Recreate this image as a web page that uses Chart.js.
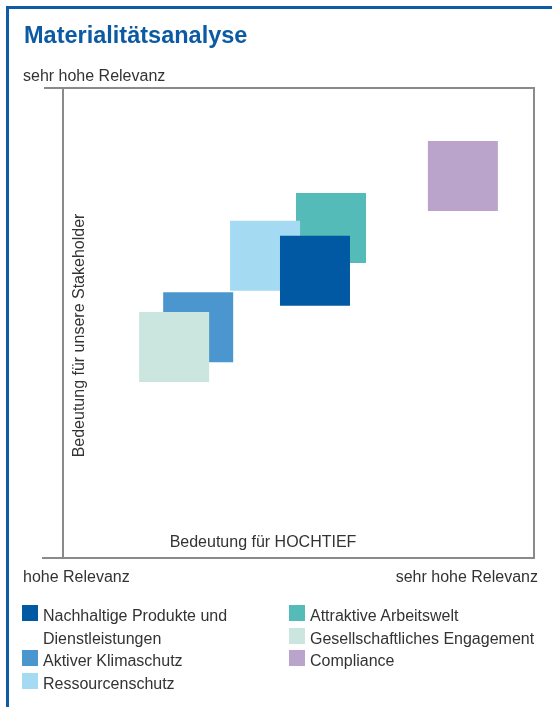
<!DOCTYPE html>
<html lang="de">
<head>
<meta charset="utf-8">
<title>Materialitätsanalyse</title>
<script src="https://cdn.jsdelivr.net/npm/chart.js@4.4.1/dist/chart.umd.min.js"></script>
<style>
  body { margin: 0; background: #fff; font-family: "Liberation Sans", Arial, sans-serif; }
  #wrap { position: relative; width: 552px; height: 707px; overflow: hidden; }
  #matrix { position: absolute; left: 0; top: 0; }
  .legende { position: absolute; top: 605px; font-size: 16px; line-height: 22.7px; color: #333; }
  .legende .eintrag { display: flex; align-items: flex-start; }
  .legende .kasten { width: 16px; height: 16px; margin-right: 5px; flex: none; }
  #spalte1 .text { width: 200px; }
  #spalte2 .text { width: 250px; }
</style>
</head>
<body>
<div id="wrap">
  <canvas id="matrix" width="552" height="707"></canvas>
  <div class="legende" id="spalte1" style="left:22px"></div>
  <div class="legende" id="spalte2" style="left:289px"></div>
</div>
<script>
// Themen der Materialitätsanalyse (Skala 0..100 je Achse)
var themen = ['Nachhaltige Produkte und Dienstleistungen', 'Aktiver Klimaschutz', 'Ressourcenschutz',
              'Attraktive Arbeitswelt', 'Gesellschaftliches Engagement', 'Compliance'];
var bedeutungHochtief = [53.5, 28.7, 42.9, 56.9, 23.6, 84.9];
var bedeutungStakeholder = [61.1, 49.1, 64.3, 70.2, 44.9, 81.3];
var farben = ['#0059a2', '#4b96ce', '#a5daf3', '#55bbb8', '#cbe6df', '#bba4cc'];
var ebene = [4, 3, 5, 6, 2, 1]; // kleinere Zahl liegt oben

var achsenText = {
  hoch: 'sehr hohe Relevanz',
  niedrig: 'hohe Relevanz',
  x: 'Bedeutung für HOCHTIEF',
  y: 'Bedeutung für unsere Stakeholder'
};

var rahmen = {
  id: 'rahmen',
  beforeDatasetsDraw: function (chart) {
    var c = chart.ctx, a = chart.chartArea;
    c.save();
    // blauer Seitenrahmen
    c.strokeStyle = '#0d5ca6';
    c.lineWidth = 3;
    c.beginPath();
    c.moveTo(7.5, 707); c.lineTo(7.5, 7.5); c.lineTo(552, 7.5);
    c.stroke();

    // Überschrift
    c.fillStyle = '#0b5aa3';
    c.font = 'bold 23.5px "Liberation Sans", Arial, sans-serif';
    c.textBaseline = 'alphabetic';
    c.textAlign = 'left';
    c.fillText('Materialitätsanalyse', 24, 43);

    // Matrix-Rahmen
    c.strokeStyle = '#8a8a8a';
    c.lineWidth = 2;
    c.beginPath();
    c.moveTo(a.left - 19, a.top); c.lineTo(a.right, a.top); c.lineTo(a.right, a.bottom); c.lineTo(a.left - 21, a.bottom);
    c.moveTo(a.left, a.top - 1); c.lineTo(a.left, a.bottom);
    c.stroke();

    // Achsenbeschriftungen
    c.fillStyle = '#333';
    c.font = '16px "Liberation Sans", Arial, sans-serif';
    c.fillText(achsenText.hoch, a.left - 40, a.top - 7);
    c.fillText(achsenText.niedrig, a.left - 40, a.bottom + 24);
    c.textAlign = 'right';
    c.fillText(achsenText.hoch, a.right + 4, a.bottom + 24);
    c.textAlign = 'center';
    c.fillText(achsenText.x, 263, a.bottom - 11);
    c.translate(a.left + 21, 335.5);
    c.rotate(-Math.PI / 2);
    c.fillText(achsenText.y, 0, 0);
    c.restore();
  }
};

var datensaetze = themen.map(function (name, i) {
  return {
    label: name,
    data: [{ x: bedeutungHochtief[i], y: bedeutungStakeholder[i] }],
    pointStyle: 'rect',
    pointRadius: 49.5,
    pointHoverRadius: 49.5,
    pointBorderWidth: 0,
    backgroundColor: farben[i],
    borderColor: farben[i],
    order: ebene[i]
  };
});

new Chart(document.getElementById('matrix').getContext('2d'), {
  type: 'scatter',
  data: { datasets: datensaetze },
  options: {
    responsive: false,
    animation: false,
    events: [],
    layout: {
      autoPadding: false,
      padding: { left: 63, top: 88, right: 18, bottom: 149 }
    },
    scales: {
      x: { min: 0, max: 100, display: false },
      y: { min: 0, max: 100, display: false }
    },
    plugins: {
      legend: { display: false },
      tooltip: { enabled: false }
    }
  },
  plugins: [rahmen]
});

// Legende in zwei Spalten
themen.forEach(function (name, i) {
  var zeile = document.createElement('div');
  zeile.className = 'eintrag';
  zeile.innerHTML = '<span class="kasten" style="background:' + farben[i] + '"></span><span class="text">' + name + '</span>';
  document.getElementById(i < 3 ? 'spalte1' : 'spalte2').appendChild(zeile);
});
</script>
</body>
</html>
